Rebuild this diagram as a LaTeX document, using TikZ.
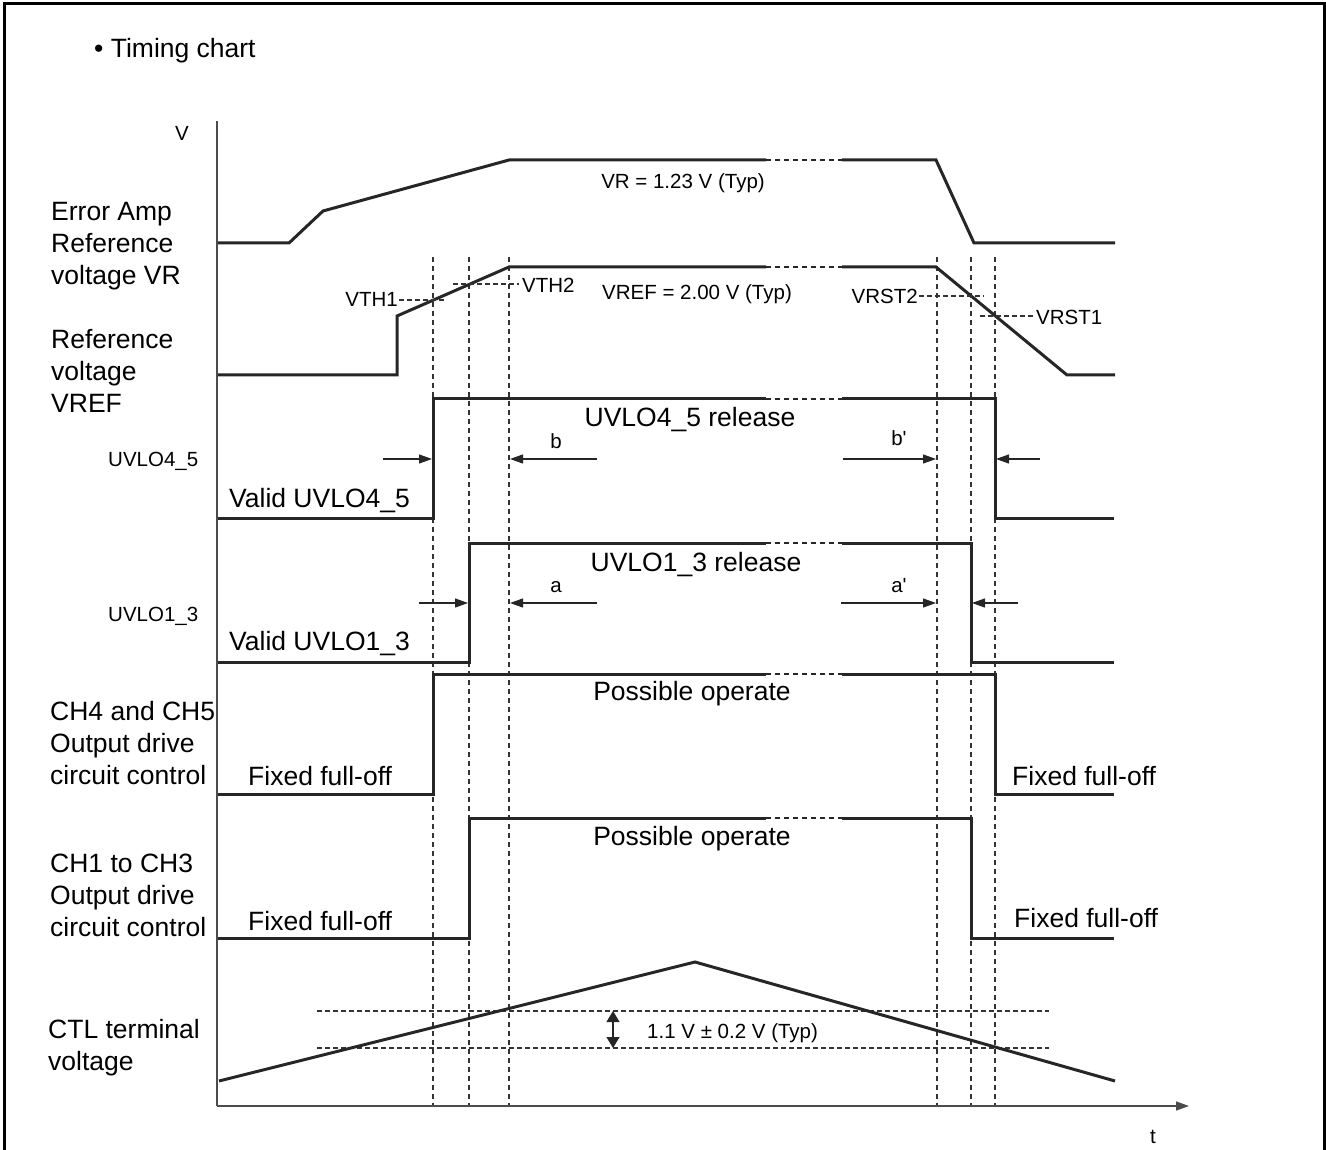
\documentclass[tikz,border=0pt]{standalone}
\usepackage{fontspec}
\setmainfont{Liberation Sans}[Ligatures=TeXOff]
\usetikzlibrary{arrows.meta}
\begin{document}
\begin{tikzpicture}[x=1pt,y=-1pt,
  wave/.style={line width=3pt, black!85, line join=miter},
  brk/.style={line width=1.3pt, dash pattern=on 5pt off 4pt, black!85},
  vguide/.style={line width=1.2pt, dash pattern=on 5pt off 4pt, black!80},
  hguide/.style={line width=1.2pt, dash pattern=on 5pt off 3pt, black!80},
  axisline/.style={line width=1.5pt, black!70},
  big/.style={font=\fontsize{26.5}{32}\selectfont, inner sep=0pt},
  small/.style={font=\fontsize{20.5}{24}\selectfont, inner sep=0pt},
  dimarrow/.style={line width=1.2pt, black!85, -{Triangle[length=13pt,width=9pt]}},
]
\useasboundingbox (0,0) rectangle (1326,1150);
% frame
\draw[line width=3pt] (4,1150) -- (4,4) -- (1324,4) -- (1324,1150);

% title
\node[big, anchor=base west] (title) at (94,58) {\textbullet{} Timing chart};

% axes
\coordinate (origin) at (217,1106);
\coordinate (ytop) at (217,121);
\coordinate (xend) at (1189,1106);
\draw[axisline] (ytop) -- (origin);
\draw[axisline, -{Triangle[length=13pt,width=9pt]}] (origin) -- (xend);
\node[small] (vlab) at (182,133) {V};
\node[small, anchor=base] (tlab) at (1153,1143) {t};

% vertical guides
\foreach \gx in {433,469,509,937,971,995}
  \draw[vguide] (\gx,257) -- (\gx,1105);

% CTL horizontal guides
\draw[hguide] (317,1011) -- (1049,1011);
\draw[hguide] (317,1048) -- (1049,1048);

% VR waveform
\draw[wave] (218,243) -- (289,243) -- (323,211) -- (509,160) -- (766,160);
\draw[brk] (766,160) -- (842,160);
\draw[wave] (842,160) -- (936,160) -- (974,243) -- (1115,243);

% VREF waveform
\draw[wave] (218,375) -- (397,375) -- (397,316) -- (509,267) -- (766,267);
\draw[brk] (766,267) -- (842,267);
\draw[wave] (842,267) -- (936,267) -- (1067,375) -- (1115,375);

% threshold markers
\draw[hguide] (399,300) -- (445,300);
\draw[hguide] (453,284) -- (519,284);
\draw[hguide] (919,296) -- (984,296);
\draw[hguide] (980,316) -- (1034,316);
\node[small, anchor=base east] (vth1) at (398,307) {VTH1};
\node[small, anchor=base west] (vth2) at (522,293) {VTH2};
\node[small, anchor=base east] (vrst2) at (918,304) {VRST2};
\node[small, anchor=base west] (vrst1) at (1036,325) {VRST1};
\node[small, anchor=base] (vrlab) at (683,189) {VR = 1.23 V (Typ)};
\node[small, anchor=base] (vreflab) at (697,300) {VREF = 2.00 V (Typ)};

% UVLO4_5 waveform
\draw[wave] (218,518) -- (433,518) -- (433,399) -- (766,399);
\draw[brk] (766,399) -- (842,399);
\draw[wave] (842,399) -- (995,399) -- (995,518) -- (1114,518);

% UVLO1_3 waveform
\draw[wave] (218,662) -- (469,662) -- (469,543) -- (766,543);
\draw[brk] (766,543) -- (842,543);
\draw[wave] (842,543) -- (971,543) -- (971,662) -- (1114,662);

% CH4/CH5 waveform
\draw[wave] (218,794) -- (433,794) -- (433,674) -- (766,674);
\draw[brk] (766,674) -- (842,674);
\draw[wave] (842,674) -- (995,674) -- (995,794) -- (1114,794);

% CH1-CH3 waveform
\draw[wave] (218,938) -- (469,938) -- (469,818) -- (766,818);
\draw[brk] (766,818) -- (842,818);
\draw[wave] (842,818) -- (971,818) -- (971,938) -- (1114,938);

% CTL waveform
\draw[wave] (219,1081) -- (695,962) -- (1115,1081);
\draw[line width=1.2pt, black!85, {Triangle[length=11pt,width=13pt]}-{Triangle[length=11pt,width=13pt]}] (613,1011) -- (613,1048);
\node[small, anchor=base west] (ctlrange) at (647,1038) {1.1 V ± 0.2 V (Typ)};

% dimension arrows
\draw[dimarrow] (383,459) -- (432,459);
\draw[dimarrow] (597,459) -- (510,459);
\draw[dimarrow] (843,459) -- (936,459);
\draw[dimarrow] (1040,459) -- (996,459);
\draw[dimarrow] (419,603) -- (468,603);
\draw[dimarrow] (597,603) -- (510,603);
\draw[dimarrow] (841,603) -- (936,603);
\draw[dimarrow] (1018,603) -- (972,603);
\node[small, anchor=base] (lb) at (556,448) {b};
\node[small, anchor=base] (lbp) at (899,446) {b'};
\node[small, anchor=base] (la) at (556,592) {a};
\node[small, anchor=base] (lap) at (899,592) {a'};

% row texts
\node[big, anchor=base] (rel45) at (690,426) {UVLO4\_5 release};
\node[big, anchor=base west] (val45) at (229,507) {Valid UVLO4\_5};
\node[big, anchor=base] (rel13) at (696,571) {UVLO1\_3 release};
\node[big, anchor=base west] (val13) at (229,650) {Valid UVLO1\_3};
\node[big, anchor=base] (po1) at (692,700) {Possible operate};
\node[big, anchor=base west] (ff1) at (248,785) {Fixed full-off};
\node[big, anchor=base west] (ff2) at (1012,785) {Fixed full-off};
\node[big, anchor=base] (po2) at (692,845) {Possible operate};
\node[big, anchor=base west] (ff3) at (248,930) {Fixed full-off};
\node[big, anchor=base west] (ff4) at (1014,927) {Fixed full-off};
\node[small, anchor=base west] (u45) at (108,466) {UVLO4\_5};
\node[small, anchor=base west] (u13) at (108,621) {UVLO1\_3};

% left labels
\node[big, anchor=base west] (ea1) at (51,221) {Error Amp};
\node[big, anchor=base west] (ea2) at (51,253) {Reference};
\node[big, anchor=base west] (ea3) at (51,285) {voltage VR};
\node[big, anchor=base west] (rf1) at (51,349) {Reference};
\node[big, anchor=base west] (rf2) at (51,381) {voltage};
\node[big, anchor=base west] (rf3) at (51,413) {VREF};
\node[big, anchor=base west] (c45a) at (50,720) {CH4 and CH5};
\node[big, anchor=base west] (c45b) at (50,752) {Output drive};
\node[big, anchor=base west] (c45c) at (50,784) {circuit control};
\node[big, anchor=base west] (c13a) at (50,872) {CH1 to CH3};
\node[big, anchor=base west] (c13b) at (50,904) {Output drive};
\node[big, anchor=base west] (c13c) at (50,936) {circuit control};
\node[big, anchor=base west] (ctl1) at (48,1038) {CTL terminal};
\node[big, anchor=base west] (ctl2) at (48,1070) {voltage};
\end{tikzpicture}
\end{document}
